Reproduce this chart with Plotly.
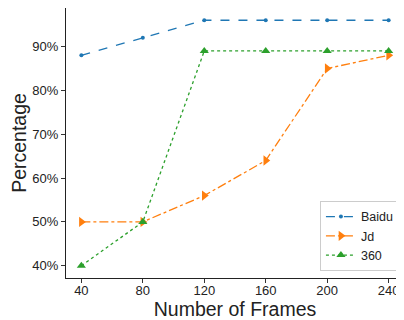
import plotly.graph_objects as go

frames = [40, 80, 120, 160, 200, 240]
baidu = [88, 92, 96, 96, 96, 96]
jd = [50, 50, 56, 64, 85, 88]
s360 = [40, 50, 89, 89, 89, 89]
y_ticks = [40, 50, 60, 70, 80, 90]
y_labels = ["40%", "50%", "60%", "70%", "80%", "90%"]
x_labels = ["40", "80", "120", "160", "200", "240"]

fig = go.Figure()
fig.add_trace(go.Scatter(x=frames, y=baidu, name="Baidu", mode="lines+markers",
                         line=dict(color="#1f77b4", dash="dash", width=1.3),
                         marker=dict(symbol="circle", size=4, color="#1f77b4")))
fig.add_trace(go.Scatter(x=frames, y=jd, name="Jd", mode="lines+markers",
                         line=dict(color="#ff7f0e", dash="dashdot", width=1.3),
                         marker=dict(symbol="triangle-right", size=9, color="#ff7f0e")))
fig.add_trace(go.Scatter(x=frames, y=s360, name="360", mode="lines+markers",
                         line=dict(color="#2ca02c", dash="dot", width=1.3),
                         marker=dict(symbol="triangle-up", size=8, color="#2ca02c")))

# the page body has an 8px margin; the figure is sized to fill the rest of the window
font = "Liberation Sans, Arial, sans-serif"
fig.update_layout(
    width=396, height=312,
    margin=dict(l=58, r=0, t=0, b=42, autoexpand=False),
    paper_bgcolor="white", plot_bgcolor="white",
    font=dict(family=font, color="#222", size=13),
    showlegend=True,
    legend=dict(x=0.988, y=0.026, xanchor="right", yanchor="bottom",
                bgcolor="rgba(255,255,255,0.9)", bordercolor="#ccc", borderwidth=1,
                font=dict(size=12.5), itemwidth=30, tracegroupgap=0),
)
fig.update_xaxes(range=[30, 250], tickvals=frames, ticktext=x_labels, ticks="outside", ticklen=4,
                 ticklabelstandoff=-4,
                 tickcolor="#333", showgrid=False, zeroline=False, automargin=False,
                 showline=True, linecolor="#222", linewidth=1, mirror=True,
                 title=dict(text="Number of Frames", font=dict(size=19.5), standoff=4))
fig.update_yaxes(range=[37.2, 98.8], tickvals=y_ticks, ticktext=y_labels, ticks="outside", ticklen=4,
                 tickcolor="#333", showgrid=False, zeroline=False, automargin=False,
                 showline=True, linecolor="#222", linewidth=1, mirror=True,
                 title=dict(text="Percentage", font=dict(size=19.5), standoff=4))
fig.write_html("out.html")
